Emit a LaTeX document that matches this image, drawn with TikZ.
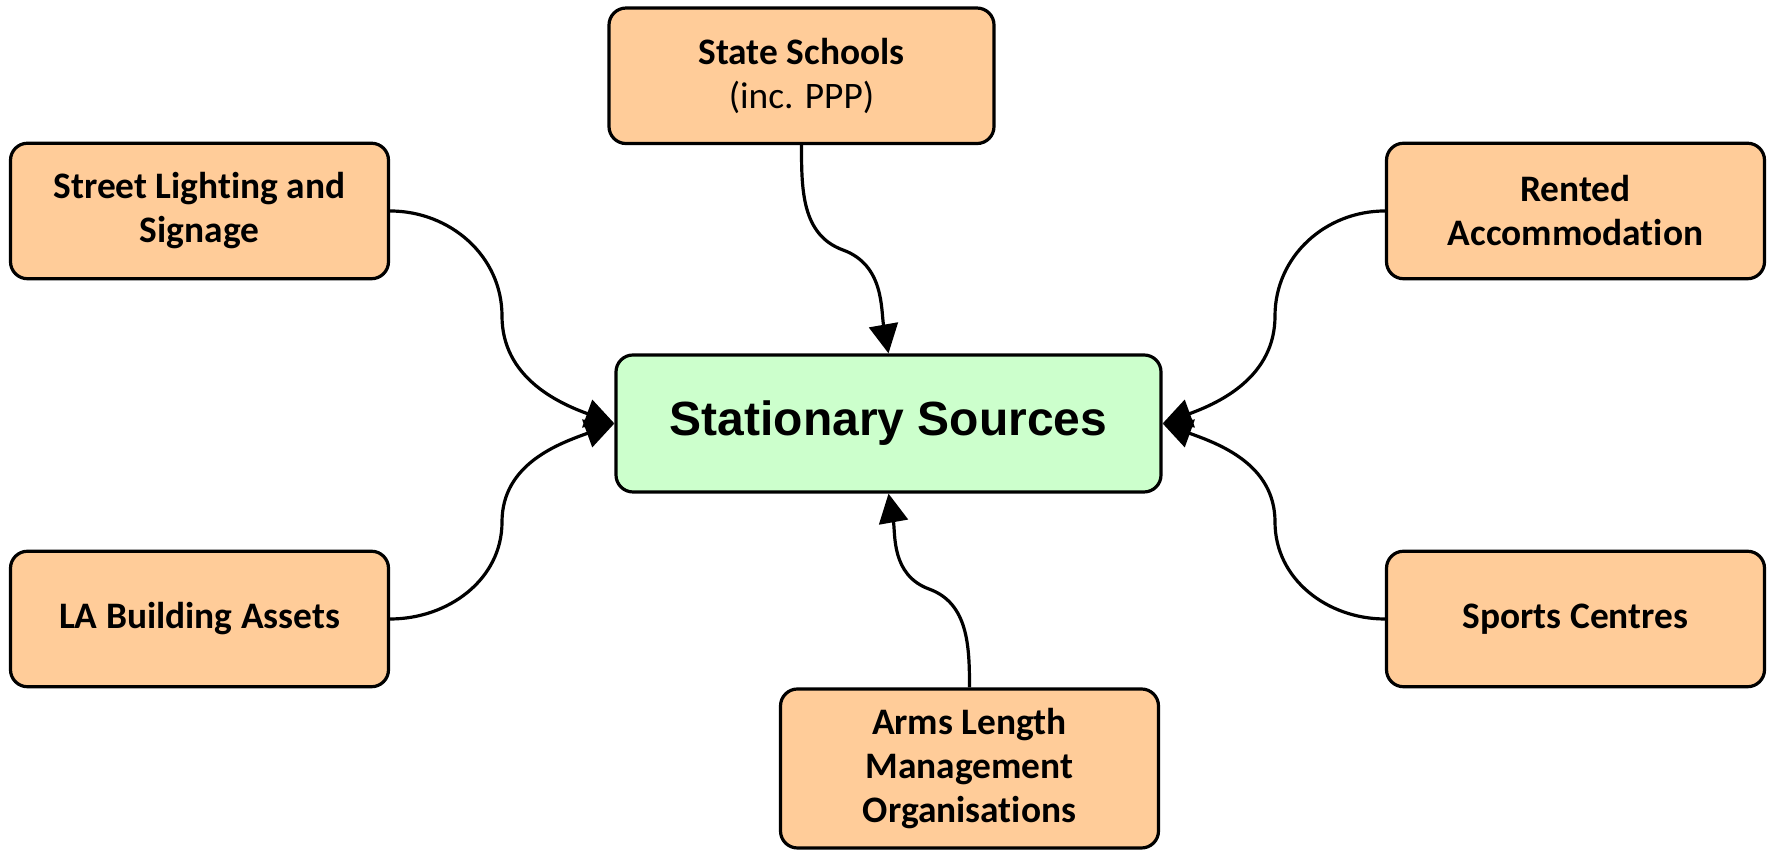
\documentclass[tikz,border=0pt]{standalone}
\usepackage{fontspec}
\setmainfont{Carlito}[Ligatures=NoCommon]
\newfontfamily\arialfont{Liberation Sans}
\usetikzlibrary{arrows.meta}
\definecolor{srcfill}{RGB}{255,204,153}
\definecolor{cenfill}{RGB}{204,255,204}
\begin{document}
\begin{tikzpicture}[x=0.5pt,y=0.5pt,
  srcbox/.style={draw=black,line width=1.6pt,fill=srcfill,rounded corners=8.5pt,
    align=center,inner sep=0pt,minimum width=189pt,minimum height=67.75pt,
    font=\fontsize{18.7}{22}\selectfont\bfseries},
  cenbox/.style={draw=black,line width=1.6pt,fill=cenfill,rounded corners=8.5pt,
    align=center,inner sep=0pt,minimum width=272.5pt,minimum height=68.5pt,
    font=\arialfont\fontsize{24}{28}\selectfont\bfseries},
  conn/.style={draw=black,line width=1.6pt,-{Triangle[length=14.5pt,width=14.5pt]}}]
\useasboundingbox (0,0) rectangle (1772,854);
\node[cenbox] (cen) at (888.5,430.5) {Stationary Sources};
\node[srcbox,minimum width=192.5pt] (ss) at (801.5,778.2) {State Schools\\{\mdseries (inc. PPP)}};
\node[srcbox] (sl) at (199.5,643) {Street Lighting and\\Signage};
\node[srcbox] (ra) at (1575.5,643) {Rented\\Accommodation};
\node[srcbox] (la) at (199.5,235) {LA Building Assets};
\node[srcbox] (sc) at (1575.5,235) {Sports Centres};
\node[srcbox,minimum height=79.5pt] (al) at (969.5,85.5) {Arms Length\\Management\\Organisations};
\coordinate (mt) at (843,604);
\coordinate (mlu) at (502,538);
\coordinate (mll) at (502,332);
\coordinate (mru) at (1275,538);
\coordinate (mrl) at (1275,332);
\coordinate (mb) at (929,265);
\draw[conn] (ss.south) to[out=-90,in=160] (mt) to[out=-20,in=100] (cen.north);
\draw[conn] (al.north) to[out=90,in=-20] (mb) to[out=160,in=-80] (cen.south);
\draw[conn] (sl.east) to[out=0,in=90] (mlu) to[out=-90,in=160] (cen.west);
\draw[conn] (la.east) to[out=0,in=-90] (mll) to[out=90,in=200] (cen.west);
\draw[conn] (ra.west) to[out=180,in=90] (mru) to[out=-90,in=20] (cen.east);
\draw[conn] (sc.west) to[out=180,in=-90] (mrl) to[out=90,in=-20] (cen.east);
\end{tikzpicture}
\end{document}
